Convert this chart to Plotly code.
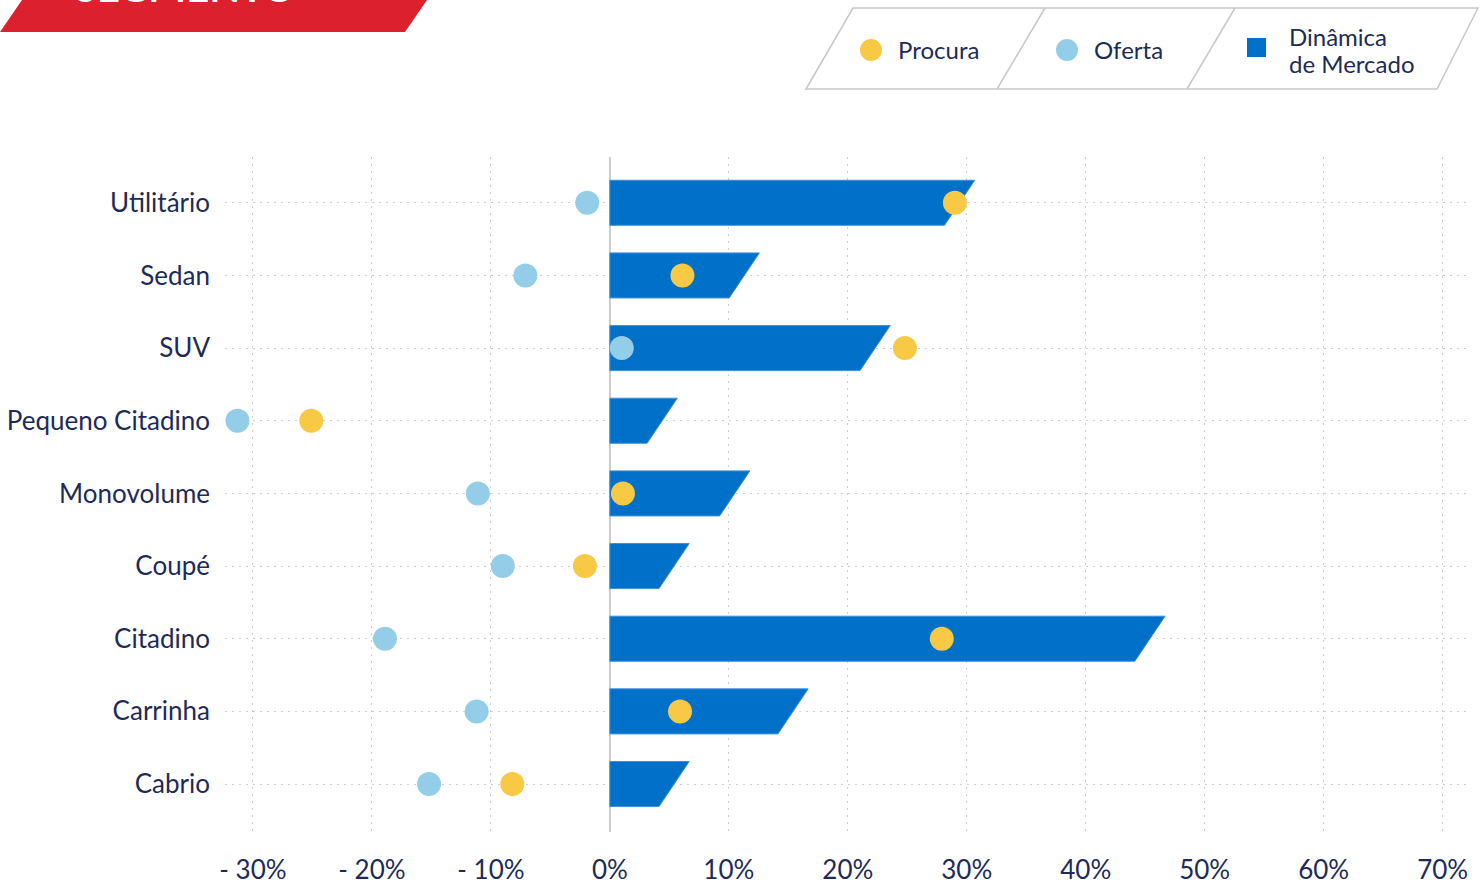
import plotly.graph_objects as go

# data
segmentos = ["Utilitário", "Sedan", "SUV", "Pequeno Citadino", "Monovolume",
             "Coupé", "Citadino", "Carrinha", "Cabrio"]
dinamica = [29.4, 11.3, 22.3, 4.4, 10.5, 5.4, 45.4, 15.4, 5.4]
oferta = [-1.9, -7.1, 1.0, -31.3, -11.1, -9.0, -18.9, -11.2, -15.2]
procura = [29.0, 6.1, 24.8, -25.1, 1.1, -2.1, 27.9, 5.9, -8.2]
x_ticks = [-30, -20, -10, 0, 10, 20, 30, 40, 50, 60, 70]
x_ticktext = ["- 30%", "- 20%", "- 10%", "0%", "10%", "20%", "30%",
              "40%", "50%", "60%", "70%"]

NAVY = "#1e2b58"
BLUE = "#0070c9"
YELLOW = "#f8c945"
LIGHT = "#93cde8"
GRID = "#cdcdcd"
FONT = "Lato"

W, H = 1480, 885
ML, MR, MT, MB = 225, 10, 157, 53
PW, PH = W - ML - MR, H - MT - MB


def px_x(x):
    return (x - ML) / PW


def px_y(y):
    return (H - MB - y) / PH


# slanted bars: polygon per segment, right edge leans forward at the top
half = 0.31
slant = 1.27
bx, by = [], []
for i, v in enumerate(dinamica):
    bx += [0, v + slant, v - slant, 0, 0, None]
    by += [i - half, i - half, i + half, i + half, i - half, None]

fig = go.Figure()
fig.add_trace(go.Scatter(
    x=bx, y=by, mode="lines", fill="toself", fillcolor=BLUE,
    line=dict(color="#3f8fd8", width=1), hoverinfo="skip", showlegend=False,
))
fig.add_trace(go.Scatter(
    x=oferta, y=list(range(len(segmentos))), mode="markers",
    marker=dict(color=LIGHT, size=24), name="Oferta", showlegend=False,
))
fig.add_trace(go.Scatter(
    x=procura, y=list(range(len(segmentos))), mode="markers",
    marker=dict(color=YELLOW, size=24), name="Procura", showlegend=False,
))

shapes = []
# red title banner (cut at top)
shapes.append(dict(
    type="path", xref="paper", yref="paper",
    path=f"M {px_x(0)},{px_y(32)} L {px_x(405)},{px_y(32)} "
         f"L {px_x(427)},{px_y(0)} L {px_x(22)},{px_y(0)} Z",
    fillcolor="#dc202e", line=dict(width=0), layer="below",
))
# legend frame
shapes.append(dict(
    type="path", xref="paper", yref="paper",
    path=f"M {px_x(806)},{px_y(89)} L {px_x(853)},{px_y(8)} "
         f"L {px_x(1478)},{px_y(8)} L {px_x(1437)},{px_y(89)} Z",
    line=dict(color="#c8c8c8", width=1.5),
))
for bx0, tx0 in [(997, 1045), (1187, 1235)]:
    shapes.append(dict(
        type="line", xref="paper", yref="paper",
        x0=px_x(bx0), y0=px_y(89), x1=px_x(tx0), y1=px_y(8),
        line=dict(color="#c8c8c8", width=1.5),
    ))
for cx, col in [(871, YELLOW), (1067, LIGHT)]:
    shapes.append(dict(
        type="circle", xref="paper", yref="paper",
        x0=px_x(cx - 11), x1=px_x(cx + 11), y0=px_y(61), y1=px_y(39),
        fillcolor=col, line=dict(width=0),
    ))
shapes.append(dict(
    type="rect", xref="paper", yref="paper",
    x0=px_x(1247), x1=px_x(1266), y0=px_y(57), y1=px_y(38),
    fillcolor=BLUE, line=dict(width=0),
))


def legend_text(text, x, y):
    return dict(text=text, xref="paper", yref="paper", x=px_x(x), y=px_y(y),
                xanchor="left", yanchor="middle", showarrow=False,
                font=dict(family=FONT, size=24, color=NAVY))


annotations = [
    dict(text="<b>SEGMENTO</b>", xref="paper", yref="paper",
         x=px_x(73), y=px_y(13), xanchor="left", yanchor="bottom",
         showarrow=False, font=dict(family=FONT, size=40, color="white")),
    legend_text("Procura", 896, 49),
    legend_text("Oferta", 1092, 49),
    legend_text("Dinâmica", 1287, 37),
    legend_text("de Mercado", 1287, 63),
]

fig.update_layout(
    width=W, height=H,
    margin=dict(l=ML, r=MR, t=MT, b=MB, autoexpand=False),
    plot_bgcolor="white", paper_bgcolor="white",
    font=dict(family=FONT, color=NAVY),
    shapes=shapes, annotations=annotations,
    xaxis=dict(
        range=[-32.35, 72.3], tickvals=x_ticks, ticktext=x_ticktext,
        showgrid=True, gridcolor=GRID, griddash="2px,5px", gridwidth=1,
        zeroline=True, zerolinecolor="#cccccc", zerolinewidth=2,
        showline=False, ticks="", tickfont=dict(size=26, color=NAVY),
        ticklabelstandoff=20, automargin=False,
    ),
    yaxis=dict(
        range=[8.66, -0.63], tickvals=list(range(len(segmentos))),
        ticktext=segmentos, showgrid=True, gridcolor=GRID,
        griddash="2px,5px", gridwidth=1, zeroline=False, showline=False,
        ticks="", tickfont=dict(size=26, color=NAVY), ticklabelstandoff=14,
        automargin=False,
    ),
)

fig.write_html(
    "out.html",
    config={"displayModeBar": False},
    post_script="document.body.style.margin='0';"
                "document.body.style.overflow='hidden';",
)
